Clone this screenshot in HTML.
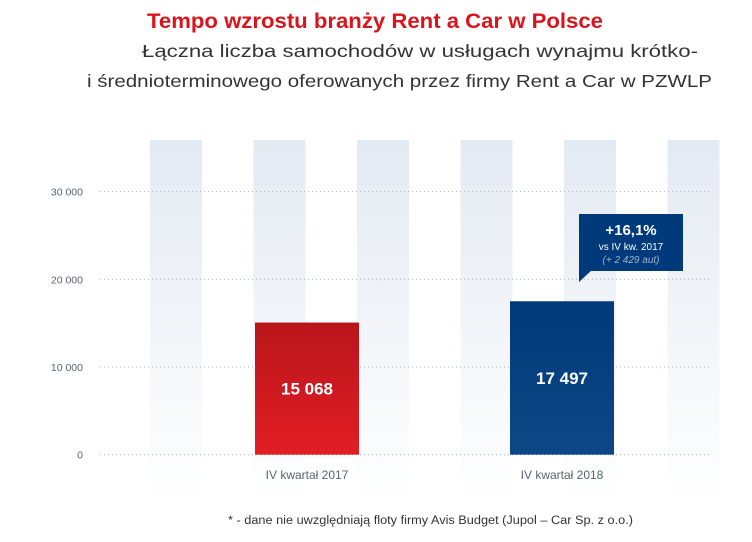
<!DOCTYPE html>
<html><head><meta charset="utf-8"><style>
body{margin:0;background:#fff;width:752px;height:537px;overflow:hidden;font-family:"Liberation Sans",sans-serif}
</style></head><body>
<svg width="752" height="537">
<defs>
<linearGradient id="sg" x1="0" y1="0" x2="0" y2="1"><stop offset="0" stop-color="#e4eaf2"/><stop offset="1" stop-color="#e4eaf2" stop-opacity="0"/></linearGradient>
<linearGradient id="rg" x1="0" y1="0" x2="0" y2="1"><stop offset="0" stop-color="#b8161b"/><stop offset="1" stop-color="#e21d24"/></linearGradient>
<linearGradient id="bg" x1="0" y1="0" x2="0" y2="1"><stop offset="0" stop-color="#003a7a"/><stop offset="1" stop-color="#0d4786"/></linearGradient>
</defs>
<text x="147" y="28" textLength="456" lengthAdjust="spacingAndGlyphs" font-size="21" font-weight="bold" fill="#d9141c">Tempo wzrostu branży Rent a Car w Polsce</text>
<text x="142" y="57" textLength="556" lengthAdjust="spacingAndGlyphs" font-size="17.5" fill="#333">Łączna liczba samochodów w usługach wynajmu krótko-</text>
<text x="87" y="87" textLength="625" lengthAdjust="spacingAndGlyphs" font-size="17.5" fill="#333">i średnioterminowego oferowanych przez firmy Rent a Car w PZWLP</text>
<g id="stripes"></g>
<g id="grid"></g>
<g id="bars"></g>
<g>
<rect x="579" y="214" width="104" height="57" fill="#003a7a"/>
<polygon points="579,270 592,270 579,282" fill="#003a7a"/>
<text x="631" y="235" text-anchor="middle" font-size="15" font-weight="bold" fill="#fff">+16,1%</text>
<text x="631" y="250" text-anchor="middle" font-size="10" fill="#fff">vs IV kw. 2017</text>
<text x="631" y="263" text-anchor="middle" font-size="10" font-style="italic" fill="#9fb3cf">(+ 2 429 aut)</text>
</g>
<text x="228" y="524" textLength="405" lengthAdjust="spacingAndGlyphs" font-size="11.5" fill="#333">* - dane nie uwzględniają floty firmy Avis Budget (Jupol – Car Sp. z o.o.)</text>
</svg>
<script>
const categories=["IV kwartał 2017","IV kwartał 2018"];
const values=[15068,17497];
const valueLabels=["15 068","17 497"];
const yTicks=[0,10000,20000,30000];
const yTickLabels=["0","10 000","20 000","30 000"];
const NS="http://www.w3.org/2000/svg";
const y=v=>454.7-v*87.7/10000;
const xc=i=>307+i*255;
function mk(t,a,p){const e=document.createElementNS(NS,t);for(const k in a)e.setAttribute(k,a[k]);p.appendChild(e);return e;}
const st=document.getElementById('stripes');
for(let i=0;i<6;i++){const r=mk('rect',{x:150+i*103.5,y:140,width:52,height:365,fill:'url(#sg)'},st);

}
const g=document.getElementById('grid');
yTicks.forEach((t,i)=>{const l=mk('line',{x1:100,x2:710,y1:y(t),y2:y(t),stroke:'#aab2bb','stroke-width':1,'stroke-dasharray':'1 3'},g);


const tx=mk('text',{x:83,y:y(t)+4,'text-anchor':'end','font-size':10.5,fill:'#5a6470'},g);tx.textContent=yTickLabels[i];

});
const b=document.getElementById('bars');
values.forEach((v,i)=>{const r=mk('rect',{x:xc(i)-52,y:y(v),width:104,height:y(0)-y(v),fill:i?'url(#bg)':'url(#rg)'},b);


const t=mk('text',{x:xc(i),y:(y(v)+y(0))/2+6,'text-anchor':'middle','font-size':17,'font-weight':'bold',fill:'#fff'},b);t.textContent=valueLabels[i];


const c=mk('text',{x:xc(i),y:479,'text-anchor':'middle','font-size':12,fill:'#5a6470'},b);c.textContent=categories[i];

});
</script>
</body></html>
